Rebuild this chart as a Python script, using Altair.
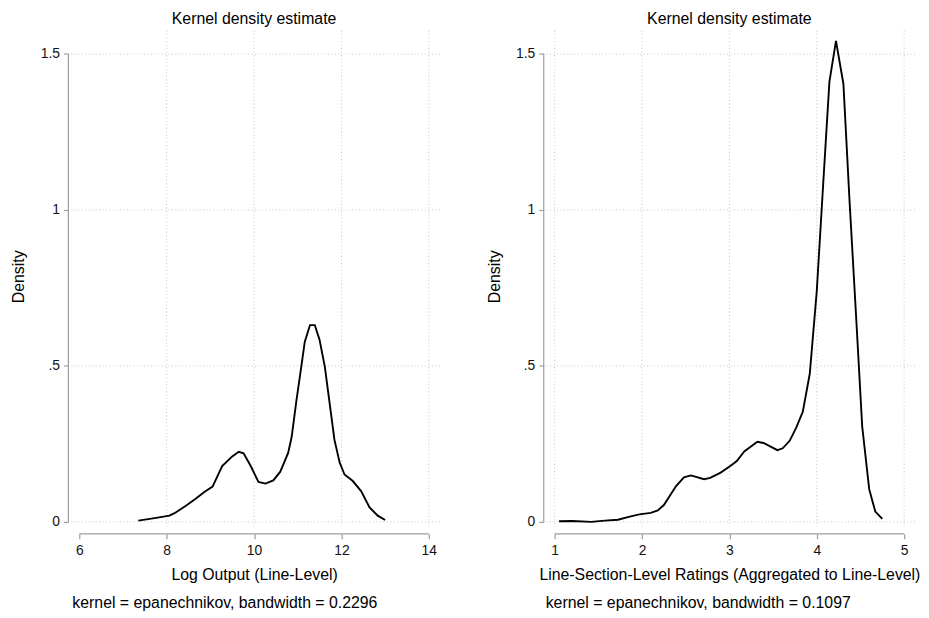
import altair as alt
import pandas as pd

# ---------------- data ----------------
left_x = [7.35, 7.76, 8.06, 8.18, 8.44, 8.67, 8.86, 9.05, 9.27, 9.50, 9.65, 9.76,
          9.92, 10.10, 10.26, 10.44, 10.60, 10.78, 10.86, 10.97, 11.09, 11.16, 11.28,
          11.39, 11.50, 11.62, 11.73, 11.84, 11.96, 12.07, 12.26, 12.45, 12.64, 12.83, 13.00]
left_y = [0.004, 0.013, 0.020, 0.028, 0.052, 0.075, 0.096, 0.113, 0.179, 0.210, 0.225, 0.220,
          0.180, 0.128, 0.123, 0.133, 0.161, 0.221, 0.272, 0.390, 0.507, 0.577, 0.631,
          0.631, 0.583, 0.497, 0.380, 0.263, 0.190, 0.152, 0.131, 0.099, 0.047, 0.020, 0.006]

right_x = [1.05, 1.20, 1.42, 1.575, 1.725, 1.86, 1.97, 2.10, 2.18, 2.25, 2.39, 2.48, 2.56,
           2.71, 2.78, 2.90, 3.01, 3.085, 3.17, 3.32, 3.39, 3.55, 3.61, 3.69, 3.765, 3.84,
           3.92, 4.00, 4.075, 4.145, 4.22, 4.305, 4.375, 4.45, 4.52, 4.60, 4.67, 4.75]
right_y = [0.002, 0.003, 0.000, 0.004, 0.007, 0.017, 0.024, 0.029, 0.037, 0.054, 0.115, 0.143, 0.149,
           0.137, 0.141, 0.158, 0.179, 0.195, 0.226, 0.257, 0.253, 0.230, 0.236, 0.260, 0.302, 0.353,
           0.475, 0.740, 1.090, 1.412, 1.542, 1.404, 1.030, 0.660, 0.306, 0.105, 0.033, 0.010]

left_xticks = [6, 8, 10, 12, 14]
left_xgrid = [8, 10, 12, 14]
right_xticks = [1, 2, 3, 4, 5]
right_xgrid = [1, 2, 3, 4, 5]
y_ticks = [0, 0.5, 1, 1.5]
y_labels = ["0", ".5", "1", "1.5"]

title_text = "Kernel density estimate"
y_title = "Density"
left_xtitle = "Log Output (Line-Level)"
right_xtitle = "Line-Section-Level Ratings (Aggregated to Line-Level)"
left_note = "kernel = epanechnikov, bandwidth = 0.2296"
right_note = "kernel = epanechnikov, bandwidth = 0.1097"

# ---------------- styling ----------------
W, H = 375, 501
FONT = "Liberation Sans"
AXIS_GRAY = "#9e9e9e"
GRID_GRAY = "#c4c4c4"
Y_DOMAIN = [-0.0159, 1.5746]

label_expr = "''"
for v, lab in reversed(list(zip(y_ticks, y_labels))):
    label_expr = f"datum.value === {v} ? '{lab}' : ({label_expr})"


def panel(xs, ys, xdomain, xticks, xgrid, xtitle, note, note_dx):
    xscale = alt.Scale(domain=xdomain, nice=False, zero=False)
    yscale = alt.Scale(domain=Y_DOMAIN, nice=False, zero=False)
    xaxis = alt.Axis(values=xticks, title=xtitle, grid=False, domain=False, offset=7,
                     tickSize=5, tickColor=AXIS_GRAY, tickWidth=1.2,
                     labelFont=FONT, labelFontSize=14, labelColor="#111", labelPadding=5,
                     titleFont=FONT, titleFontSize=16, titleFontWeight="normal",
                     titleColor="#000", titleY=41, titleBaseline="middle")
    yaxis = alt.Axis(values=y_ticks, labelExpr=label_expr, title=y_title, grid=False,
                     domain=False, tickSize=5, tickColor=AXIS_GRAY, tickWidth=1.2,
                     labelFont=FONT, labelFontSize=14, labelColor="#111", labelPadding=4,
                     titleFont=FONT, titleFontSize=16, titleFontWeight="normal",
                     titleColor="#000", titleX=-50, titleY=248, titleBaseline="middle",
                     titleAngle=270)

    def X(f):
        return alt.X(f, scale=xscale, axis=xaxis)

    def Y(f):
        return alt.Y(f, scale=yscale, axis=yaxis)

    hgrid = alt.Chart(pd.DataFrame({"g": y_ticks})).mark_rule(
        color=GRID_GRAY, strokeDash=[1, 2.5], strokeWidth=1).encode(y=Y("g:Q"))
    vgrid = alt.Chart(pd.DataFrame({"g": xgrid})).mark_rule(
        color=GRID_GRAY, strokeDash=[1, 2.5], strokeWidth=1).encode(x=X("g:Q"))
    yline = alt.Chart(pd.DataFrame({"lo": [min(y_ticks)], "hi": [max(y_ticks)]})).mark_rule(
        color=AXIS_GRAY, strokeWidth=1.2).encode(x=alt.value(0), y=Y("lo:Q"), y2="hi:Q")
    xline = alt.Chart(pd.DataFrame({"lo": [min(xticks)], "hi": [max(xticks)]})).mark_rule(
        color=AXIS_GRAY, strokeWidth=1.2).encode(x=X("lo:Q"), x2="hi:Q", y=alt.value(H + 7))
    curve = alt.Chart(pd.DataFrame({"x": xs, "y": ys})).mark_line(
        color="black", strokeWidth=1.9).encode(x=X("x:Q"), y=Y("y:Q"), order="x:Q")
    note_t = alt.Chart(pd.DataFrame({"t": [note]})).mark_text(
        align="left", baseline="middle", font=FONT, fontSize=16, color="#000").encode(
        text="t:N", x=alt.value(note_dx), y=alt.value(H + 77))

    return alt.layer(hgrid, vgrid, yline, xline, curve, note_t).properties(
        width=W, height=H,
        title=alt.Title(title_text, font=FONT, fontSize=16, fontWeight="normal",
                        color="#000", frame="group", anchor="middle",
                        baseline="bottom", offset=-13))


left = panel(left_x, left_y, [5.75, 14.25], left_xticks, left_xgrid, left_xtitle, left_note, 4)
right = panel(right_x, right_y, [0.875, 5.125], right_xticks, right_xgrid, right_xtitle, right_note, 2)

chart = alt.hconcat(left, right, spacing=46).properties(
    padding={"left": 3, "top": 0, "right": 0, "bottom": 0},
    background="white",
).configure_view(stroke=None)

chart.save("out.html", embed_options={"renderer": "svg", "actions": False})
